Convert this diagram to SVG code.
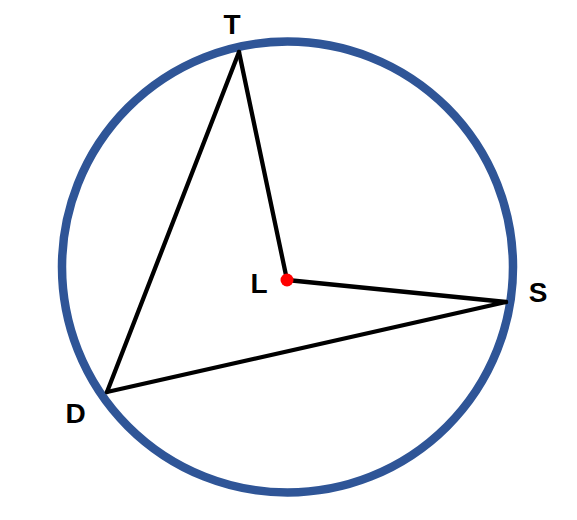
<svg xmlns="http://www.w3.org/2000/svg" width="577" height="520" viewBox="0 0 577 520">
<style>
.lbl{font-family:"Liberation Sans",Arial,sans-serif;font-weight:bold;font-size:28px;fill:#000}
.ln{stroke:#000;stroke-width:4.3;fill:none;stroke-linecap:round;stroke-linejoin:round}
</style>
<rect width="577" height="520" fill="#fff"/>
<g id="circle">
<circle cx="287.5" cy="267" r="225.5" fill="none" stroke="#2F5597" stroke-width="8.5"/>
</g>
<g id="connectors">
<line class="ln" x1="239" y1="52" x2="287" y2="280"/>
<line class="ln" x1="287" y1="280" x2="506" y2="302"/>
<line class="ln" x1="239" y1="52" x2="107" y2="392"/>
<line class="ln" x1="107" y1="392" x2="506" y2="302"/>
</g>
<g id="node-L">
<circle cx="287" cy="280" r="6.5" fill="#FF0000"/>
<text class="lbl" x="259" y="293" text-anchor="middle">L</text>
</g>
<g id="node-T"><text class="lbl" x="232" y="34" text-anchor="middle">T</text></g>
<g id="node-S"><text class="lbl" x="538" y="302" text-anchor="middle">S</text></g>
<g id="node-D"><text class="lbl" x="75.5" y="423" text-anchor="middle">D</text></g>
</svg>
